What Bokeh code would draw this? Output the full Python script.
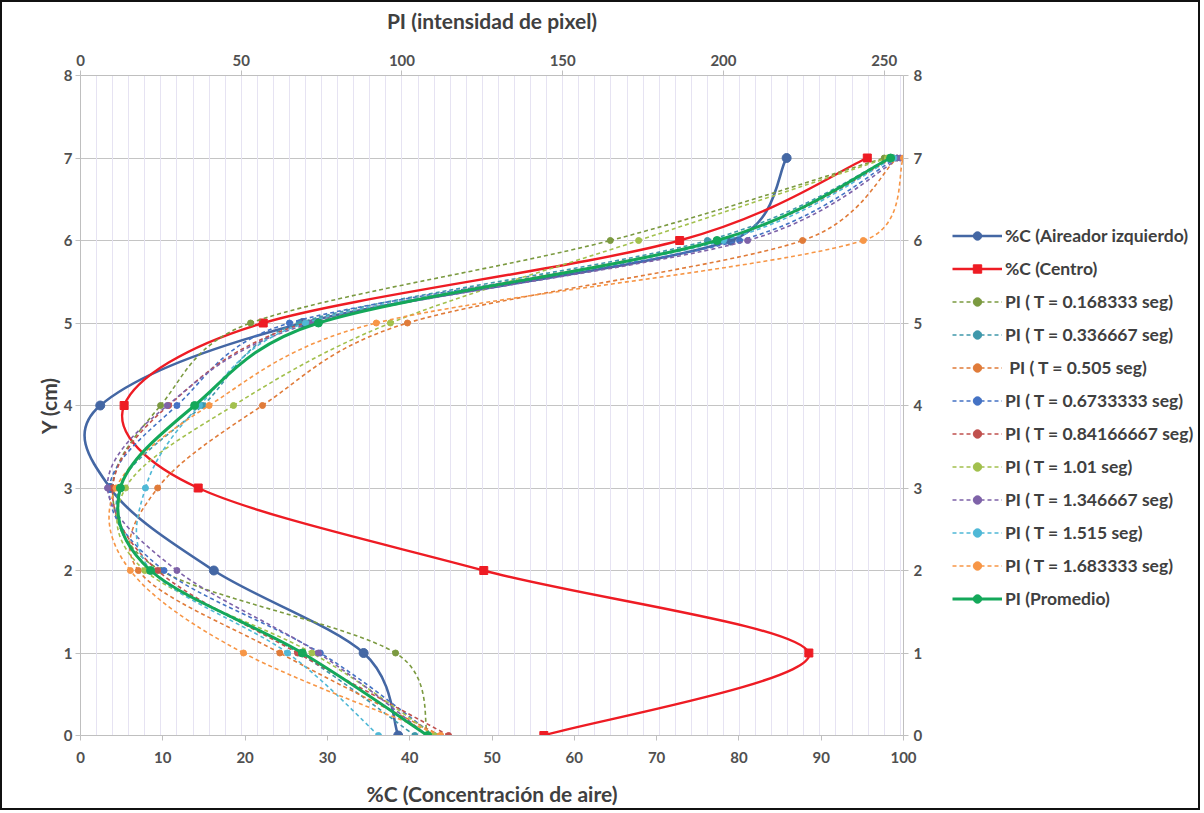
import math
from bokeh.plotting import figure
from bokeh.layouts import row
from bokeh.models import (Range1d, LinearAxis, Legend, LegendItem, FixedTicker,
                          ColumnDataSource, Grid)
from bokeh.embed import file_html
from bokeh.resources import INLINE

# ---------------- data ----------------
y_cm = [0, 1, 2, 3, 4, 5, 6, 7]

# %C series (bottom axis, 0-100)
c_aireador = [38.6, 34.4, 16.2, 3.6, 2.4, 27.0, 79.0, 85.8]
c_centro = [56.3, 88.5, 49.0, 14.3, 5.3, 22.2, 72.8, 95.6]

# PI series (top axis, 0-256)
pi_t0168 = [108, 98, 25, 10, 24.9, 52.9, 164.8, 250]
pi_t0337 = [104, 68, 22, 12, 38, 68, 195, 252]
pi_t0505 = [112, 62, 18, 24, 56.6, 101.7, 224.6, 254]
pi_t0673 = [110, 74.6, 26, 9, 30, 65, 205, 254]
pi_t0842 = [114.5, 67.5, 24, 10, 27.4, 70, 198, 253]
pi_t1010 = [110, 72, 20, 14, 47.6, 96.4, 173.6, 251]
pi_t1347 = [108, 74, 30, 8.4, 27, 72, 207.5, 255]
pi_t1515 = [92.7, 64.4, 22, 20.2, 37, 70, 200, 253]
pi_t1683 = [112, 50.7, 15.5, 11, 40, 92, 243.5, 256]
pi_prom = [108, 69, 21.8, 12.4, 35.5, 74, 198, 252]

c_ticks = [0, 10, 20, 30, 40, 50, 60, 70, 80, 90, 100]
pi_ticks = [0, 50, 100, 150, 200, 250]
y_ticks = [0, 1, 2, 3, 4, 5, 6, 7, 8]

labels = ["%C (Aireador izquierdo)", "%C (Centro)",
          "PI ( T = 0.168333 seg)", "PI ( T = 0.336667 seg)", " PI ( T = 0.505 seg)",
          "PI ( T = 0.6733333 seg)", "PI ( T = 0.84166667 seg)", "PI ( T = 1.01 seg)",
          "PI ( T = 1.346667 seg)", "PI ( T = 1.515 seg)", "PI ( T = 1.683333 seg)",
          "PI (Promedio)"]

# ---------------- figure ----------------
FONT = "Lato"
TXT = "#404040"
FW, FH = 823, 660
C_MAX, PI_MAX, Y_MAX = 100, 256, 8
B_TOP, B_BOT = 73, 71

p = figure(frame_width=FW, frame_height=FH, x_range=Range1d(0, C_MAX),
           y_range=Range1d(0, Y_MAX),
           output_backend="svg", toolbar_location=None,
           min_border_left=78, min_border_top=B_TOP, min_border_bottom=B_BOT,
           min_border_right=40, x_axis_label="%C (Concentración de aire)",
           y_axis_label="Y (cm)")
p.extra_x_ranges = {"pi": Range1d(0, PI_MAX)}
p.outline_line_color = None


def style_axis(ax):
    ax.axis_line_color = "#bfbfbf"
    ax.major_tick_line_color = "#bfbfbf"
    ax.major_tick_out = 5
    ax.major_tick_in = 0
    ax.minor_tick_line_color = None
    ax.major_label_text_font = FONT
    ax.major_label_text_font_style = "bold"
    ax.major_label_text_font_size = "15px"
    ax.major_label_text_color = "#505050"
    ax.axis_label_text_font = FONT
    ax.axis_label_text_font_style = "bold"
    ax.axis_label_text_font_size = "21px"
    ax.axis_label_text_color = TXT


p.xaxis.ticker = FixedTicker(ticks=c_ticks)
p.yaxis.ticker = FixedTicker(ticks=y_ticks)
style_axis(p.xaxis[0])
style_axis(p.yaxis[0])
p.xaxis.axis_label_standoff = 15
p.xaxis.major_label_standoff = 11
p.yaxis.axis_label_standoff = 0
p.yaxis.major_label_standoff = 3

top = LinearAxis(x_range_name="pi", ticker=FixedTicker(ticks=pi_ticks),
                 axis_label="PI (intensidad de pixel)")
style_axis(top)
top.axis_label_standoff = 19
p.add_layout(top, "above")

right = LinearAxis(ticker=FixedTicker(ticks=y_ticks))
style_axis(right)
p.add_layout(right, "right")

p.xgrid.grid_line_color = None
p.ygrid.ticker = FixedTicker(ticks=y_ticks)
p.ygrid.grid_line_color = "#c4c4c4"
p.ygrid.grid_line_width = 1

vgrid = Grid(dimension=0, ticker=FixedTicker(ticks=list(range(5, 256, 5))),
             grid_line_color="#e6e3f2", grid_line_width=1)
vgrid.x_range_name = "pi"
p.add_layout(vgrid)


def bezier_parts(xs, ys, xmax):
    # smoothed curve (Excel style): tangent = (P2-P0)/6, capped at half the
    # segment length, measured in screen pixels
    sx = FW / xmax
    sy = FH / Y_MAX
    n = len(xs)
    P = [(x * sx, y * sy) for x, y in zip(xs, ys)]

    def ctrl(a, c, d_seg):
        tx, ty = c[0] - a[0], c[1] - a[1]
        L = math.hypot(tx, ty)
        if L == 0:
            return (0.0, 0.0)
        dist = min(L / 6.0, d_seg / 2.0)
        return (tx / L * dist, ty / L * dist)

    d = {k: [] for k in ["x0", "y0", "x1", "y1", "cx0", "cy0", "cx1", "cy1"]}
    for i in range(n - 1):
        p0 = P[i - 1] if i > 0 else P[i]
        p1 = P[i]
        p2 = P[i + 1]
        p3 = P[i + 2] if i + 2 < n else P[i + 1]
        seg = math.hypot(p2[0] - p1[0], p2[1] - p1[1])
        t1 = ctrl(p0, p2, seg)
        t2 = ctrl(p1, p3, seg)
        d["x0"].append(p1[0] / sx); d["y0"].append(p1[1] / sy)
        d["x1"].append(p2[0] / sx); d["y1"].append(p2[1] / sy)
        d["cx0"].append((p1[0] + t1[0]) / sx); d["cy0"].append((p1[1] + t1[1]) / sy)
        d["cx1"].append((p2[0] - t2[0]) / sx); d["cy1"].append((p2[1] - t2[1]) / sy)
    return ColumnDataSource(d)


series = [
    (c_aireador, "default", "#4467a4", None, 2.6, "circle", 9),
    (c_centro, "default", "#ee1c24", None, 2.4, "square", 8),
    (pi_t0168, "pi", "#7b9a40", "4 3", 1.6, "circle", 6),
    (pi_t0337, "pi", "#3f98ab", "4 3", 1.6, "circle", 6),
    (pi_t0505, "pi", "#e07b39", "4 3", 1.6, "circle", 6),
    (pi_t0673, "pi", "#4472c4", "4 3", 1.6, "circle", 6),
    (pi_t0842, "pi", "#c0504d", "4 3", 1.6, "circle", 6),
    (pi_t1010, "pi", "#a2c04d", "4 3", 1.6, "circle", 6),
    (pi_t1347, "pi", "#7e62a8", "4 3", 1.6, "circle", 6),
    (pi_t1515, "pi", "#4fb8d6", "4 3", 1.6, "circle", 6),
    (pi_t1683, "pi", "#f79646", "4 3", 1.6, "circle", 6),
    (pi_prom, "pi", "#14a85a", None, 3.0, "circle", 8),
]

# legend lives in a narrow companion figure to the right of the chart
LEG_W = 255
lf = figure(frame_width=LEG_W, frame_height=FH, x_range=Range1d(0, 1),
            y_range=Range1d(0, 1), output_backend="svg", toolbar_location=None,
            min_border_left=0, min_border_top=B_TOP, min_border_right=0,
            min_border_bottom=B_BOT)
lf.axis.visible = False
lf.grid.grid_line_color = None
lf.outline_line_color = None

items = []
for (xs, rng, col, dash, lw, mk, ms), lab in zip(series, labels):
    kw = {} if rng == "default" else {"x_range_name": "pi"}
    src = bezier_parts(xs, y_cm, C_MAX if rng == "default" else PI_MAX)
    dash_v = dash if dash else "solid"
    p.bezier(x0="x0", y0="y0", x1="x1", y1="y1", cx0="cx0", cy0="cy0",
             cx1="cx1", cy1="cy1", source=src, line_color=col, line_width=lw,
             line_dash=dash_v, **kw)
    p.scatter(x=xs, y=y_cm, marker=mk, size=ms, fill_color=col,
              line_color=col, **kw)
    # legend proxies placed outside the visible range, same style
    l_line = lf.line(x=[-5, -4], y=[-5, -5], line_color=col, line_width=lw,
                     line_dash=dash_v)
    l_mark = lf.scatter(x=[-5], y=[-5], marker=mk, size=ms, fill_color=col,
                        line_color=col)
    items.append(LegendItem(label=lab, renderers=[l_line, l_mark]))

legend = Legend(items=items, location=(9, 126))
legend.label_text_font = FONT
legend.label_text_font_style = "bold"
legend.label_text_font_size = "17.5px"
legend.label_text_color = TXT
legend.glyph_width = 50
legend.glyph_height = 21
legend.label_height = 21
legend.spacing = 12
legend.padding = 0
legend.margin = 0
legend.label_standoff = 3
legend.border_line_color = None
legend.background_fill_alpha = 0
lf.add_layout(legend)

layout = row(p, lf, spacing=0)
layout.styles = {"border": "2px solid #111111", "width": "fit-content"}

open("out.html", "w").write(file_html(layout, INLINE))
